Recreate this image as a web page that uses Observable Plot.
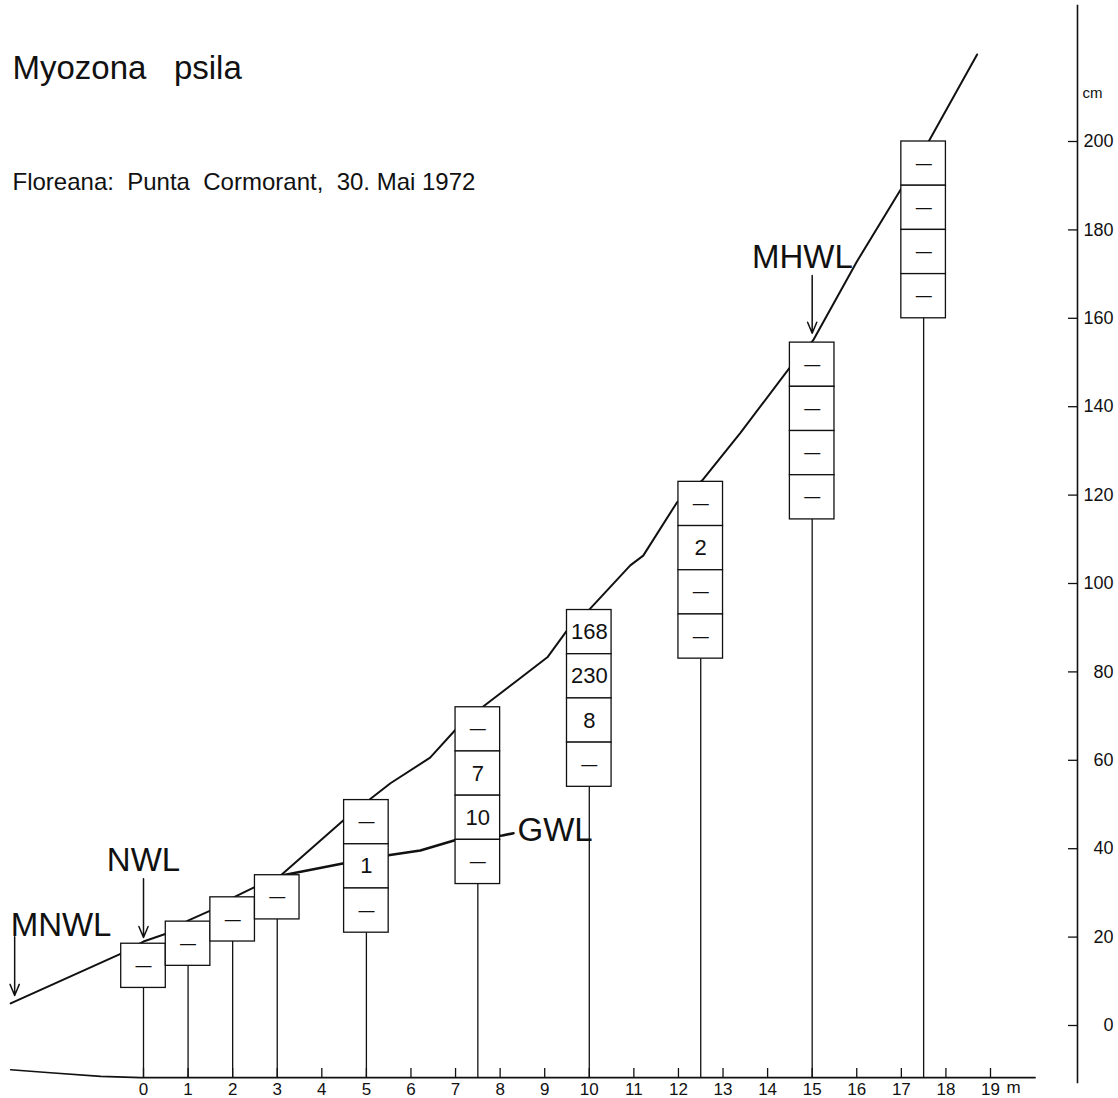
<!DOCTYPE html>
<html>
<head>
<meta charset="utf-8">
<script src="https://cdn.jsdelivr.net/npm/d3@7"></script>
<script src="https://cdn.jsdelivr.net/npm/@observablehq/plot@0.6"></script>
<style>
  html, body { margin: 0; padding: 0; background: #fff; overflow: hidden; }
  svg text { white-space: pre; }
</style>
</head>
<body>
<div id="chart"></div>
<script>
// ---- text ----
const title = "Myozona   psila";
const subtitle = "Floreana:  Punta  Cormorant,  30. Mai 1972";
const unitY = "cm";
const unitX = "m";

// ---- sampling stations (m) and quadrat columns ----
const stations = [0, 1, 2, 3, 5, 7.5, 10, 12.5, 15, 17.5];
const boxTops = [18.5, 23.5, 29, 34, 51, 72, 94, 123, 154.5, 200];   // cm, top of each column
const cellValues = [
  ["—"],
  ["—"],
  ["—"],
  ["—"],
  ["—", "1", "—"],
  ["—", "7", "10", "—"],
  ["168", "230", "8", "—"],
  ["—", "2", "—", "—"],
  ["—", "—", "—", "—"],
  ["—", "—", "—", "—"]
];
const cellHeight = 10;  // cm per quadrat
const cellWidth = 1;    // m per quadrat

// ---- beach profile (m, cm) ----
const profileX = [-2.98, -0.54, 0, 0.52, 1.01, 1.5, 2.02, 2.47, 3.07, 4.48, 5.13, 5.54, 6.43, 7.06, 7.65, 8.39, 9.06, 9.53, 10.02, 10.92, 11.21, 11.97, 12.53, 13.39, 14.48, 15.02, 16.0, 17.02, 17.6, 18.7];
const profileY = [5.0, 16.1, 19.0, 20.8, 23.8, 26.0, 29.0, 31.2, 33.9, 46.4, 51.6, 54.8, 60.6, 67.6, 72.4, 78.1, 83.3, 89.8, 94.3, 104.1, 106.3, 118.4, 123.3, 134.1, 148.6, 155.0, 172.8, 189.7, 199.8, 219.7];

// ---- ground water level (m, cm) ----
const gwlX = [3.07, 4.5, 5.49, 6.21, 7.04, 8.05, 8.3];
const gwlY = [33.9, 36.7, 38.5, 39.6, 42.1, 43.0, 43.5];

// ---- base line (m, cm) ----
const groundX = [-2.98, -2.09, -0.96, -0.07, 20.0];
const groundY = [-10.0, -10.7, -11.5, -11.8, -11.8];

// ---- ticks ----
const xTicks = d3.range(0, 20);
const yTicks = d3.range(0, 201, 20);

// ---- water level labels and arrows ----
const startLabels = ["MNWL", "GWL"];      // left-aligned labels
const startLabelX = [-2.98, 8.39];
const startLabelY = [22.6, 44.1];
const centerLabels = ["NWL", "MHWL"];     // centred labels
const centerLabelX = [0, 14.78];
const centerLabelY = [37.3, 173.8];
const arrowX = [-2.89, 0, 15.0];
const arrowFrom = [20.1, 33.2, 169.7];
const arrowTo = [6.8, 19.9, 156.6];

// ---- derived tables ----
const profile = profileX.map((x, i) => ({x, y: profileY[i]}));
const gwl = gwlX.map((x, i) => ({x, y: gwlY[i]}));
const ground = groundX.map((x, i) => ({x, y: groundY[i]}));
const baseline = groundY[groundY.length - 1];
const cells = stations.flatMap((s, i) => cellValues[i].map((v, j) => ({
  x1: s - cellWidth / 2, x2: s + cellWidth / 2, xc: s,
  y2: boxTops[i] - j * cellHeight, y1: boxTops[i] - (j + 1) * cellHeight,
  yc: boxTops[i] - (j + 0.5) * cellHeight, v
})));
const stems = stations.map((s, i) => ({x: s, top: boxTops[i] - cellValues[i].length * cellHeight}));
const startLevels = startLabels.map((t, i) => ({t, x: startLabelX[i], y: startLabelY[i]}));
const centerLevels = centerLabels.map((t, i) => ({t, x: centerLabelX[i], y: centerLabelY[i]}));
const arrows = arrowX.map((x, i) => ({x, y1: arrowFrom[i], y2: arrowTo[i]}));

const FONT = "'Liberation Sans', Arial, Helvetica, sans-serif";
const INK = "#111";

const chart = Plot.plot({
  width: 1118,
  height: 1098,
  marginTop: 5,
  marginRight: 41,
  marginBottom: 21,
  marginLeft: 0,
  style: {fontFamily: FONT, background: "#fff", color: INK},
  x: {domain: [0, 19], range: [143, 990]},
  y: {domain: [0, 200], range: [1025, 141]},
  marks: [
    // base line
    Plot.line(ground, {x: "x", y: "y", stroke: INK, strokeWidth: 1.6}),
    // profile and ground water lines
    Plot.line(profile, {x: "x", y: "y", stroke: INK, strokeWidth: 2}),
    Plot.line(gwl, {x: "x", y: "y", stroke: INK, strokeWidth: 2.6}),
    // stems
    Plot.ruleX(stems, {x: "x", y1: "top", y2: () => baseline, stroke: INK, strokeWidth: 1.3}),
    // quadrat cells
    Plot.rect(cells, {x1: "x1", x2: "x2", y1: "y1", y2: "y2", fill: "#fff", stroke: INK, strokeWidth: 1.3}),
    Plot.text(cells.filter(d => d.v !== "—"), {x: "xc", y: "yc", text: "v", fontSize: 22, fontWeight: 500, fill: INK, lineAnchor: "middle"}),
    Plot.text(cells.filter(d => d.v === "—"), {x: "xc", y: "yc", text: "v", fontSize: 16, fill: INK, lineAnchor: "middle"}),
    // arrows
    Plot.arrow(arrows, {x1: "x", x2: "x", y1: "y1", y2: "y2", stroke: INK, strokeWidth: 1.5, headLength: 12, headAngle: 45}),
    // level labels
    Plot.text(startLevels, {x: "x", y: "y", text: "t", textAnchor: "start", fontSize: 33, fill: INK, lineAnchor: "middle"}),
    Plot.text(centerLevels, {x: "x", y: "y", text: "t", textAnchor: "middle", fontSize: 33, fill: INK, lineAnchor: "middle"}),
    // x axis ticks & labels
    Plot.axisX(xTicks, {anchor: "bottom", tickSize: 9, dy: -9, text: null, stroke: INK, strokeWidth: 1.3, label: null}),
    Plot.axisX(xTicks, {anchor: "bottom", tickSize: 0, tickPadding: 5, fontSize: 17, fill: INK, label: null}),
    Plot.text([unitX], {x: () => xTicks[xTicks.length - 1], y: () => baseline, text: d => d, dx: 16, dy: 10, textAnchor: "start", lineAnchor: "middle", fontSize: 17, fill: INK}),
    // y axis
    Plot.frame({anchor: "right", stroke: INK, strokeWidth: 1.6, insetBottom: -5}),
    Plot.axisY(yTicks, {anchor: "right", tickSize: 10, dx: -10, text: null, stroke: INK, strokeWidth: 1.3, label: null}),
    Plot.axisY(yTicks, {anchor: "right", tickSize: 0, tickPadding: 36, textAnchor: "end", fontSize: 18, fill: INK, label: null}),
    Plot.text([unitY], {frameAnchor: "top-right", dx: 5, dy: 88, textAnchor: "start", lineAnchor: "middle", fontSize: 15, fill: INK}),
    // title & subtitle
    Plot.text([title], {frameAnchor: "top-left", dx: 12, dy: 50, textAnchor: "start", lineAnchor: "top", fontSize: 33, fill: INK}),
    Plot.text([subtitle], {frameAnchor: "top-left", dx: 12, dy: 167, textAnchor: "start", lineAnchor: "top", fontSize: 24, fill: INK})
  ]
});
document.getElementById("chart").appendChild(chart);
</script>
</body>
</html>
